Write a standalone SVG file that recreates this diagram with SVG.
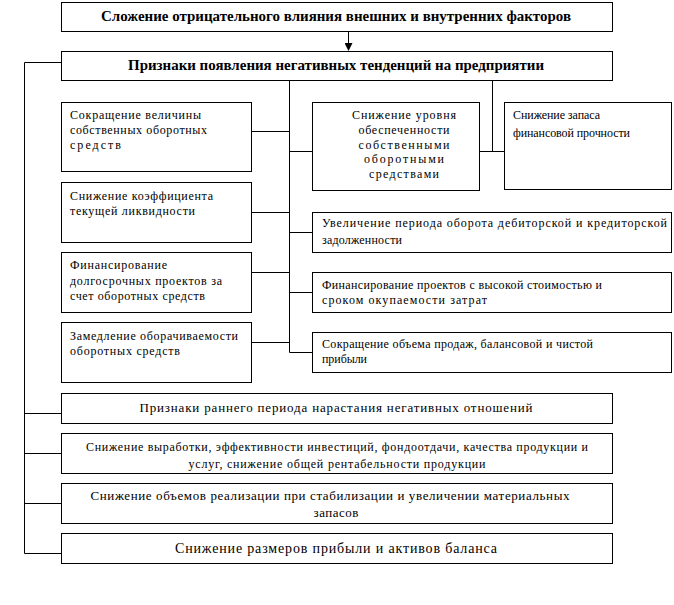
<svg xmlns="http://www.w3.org/2000/svg" width="674" height="605" viewBox="0 0 674 605">
<style>
rect{fill:#fff;stroke:#000;stroke-width:1}
.c line,.c polyline{stroke:#000;stroke-width:1;fill:none}
text{font-family:"Times New Roman","Liberation Serif",Tinos,"DejaVu Serif",serif;font-size:12px;fill:#000}
.b{font-weight:bold;font-size:14px;text-anchor:middle}
.m{text-anchor:middle}
.l13{font-size:13px;text-anchor:middle}
</style>
<defs>
<marker id="ah" markerWidth="8" markerHeight="8" refX="7" refY="4" orient="auto" markerUnits="userSpaceOnUse">
<path d="M0,0 L8,4 L0,8 Z" fill="#000"/>
</marker>
</defs>
<rect width="674" height="605" style="fill:#fff;stroke:none"/>
<g class="c" id="connectors">
<line x1="348.5" y1="31" x2="348.5" y2="50" marker-end="url(#ah)"/>
<polyline points="61,62.5 24.5,62.5 24.5,553.5 61,553.5"/>
<line x1="24.5" y1="413.5" x2="61" y2="413.5"/>
<line x1="24.5" y1="453.5" x2="61" y2="453.5"/>
<line x1="24.5" y1="503.5" x2="61" y2="503.5"/>
<line x1="289.5" y1="81" x2="289.5" y2="352.5"/>
<line x1="252" y1="131.5" x2="289.5" y2="131.5"/>
<line x1="252" y1="212.5" x2="289.5" y2="212.5"/>
<line x1="252" y1="272.5" x2="289.5" y2="272.5"/>
<line x1="252" y1="342.5" x2="289.5" y2="342.5"/>
<line x1="289.5" y1="151.5" x2="312" y2="151.5"/>
<line x1="289.5" y1="232.5" x2="312" y2="232.5"/>
<line x1="289.5" y1="292.5" x2="312" y2="292.5"/>
<line x1="289.5" y1="352.5" x2="312" y2="352.5"/>
<line x1="492.5" y1="81" x2="492.5" y2="151.5"/>
<line x1="480" y1="151.5" x2="504" y2="151.5"/>
</g>
<g id="top">
<rect x="61.5" y="2.5" width="551" height="29"/>
<text class="b" x="336" y="21" textLength="470" lengthAdjust="spacingAndGlyphs">Сложение отрицательного влияния внешних и внутренних факторов</text>
</g>
<g id="signs">
<rect x="61.5" y="51.5" width="551" height="29"/>
<text class="b" x="336" y="70" textLength="416" lengthAdjust="spacingAndGlyphs">Признаки появления негативных тенденций на предприятии</text>
</g>
<g id="l1">
<rect x="61.5" y="102.5" width="190" height="69"/>
<text x="70" y="119" textLength="131">Сокращение величины</text>
<text x="70" y="134" textLength="137">собственных оборотных</text>
<text x="70" y="149" textLength="51">средств</text>
</g>
<g id="l2">
<rect x="61.5" y="182.5" width="190" height="60"/>
<text x="70" y="200" textLength="143">Снижение коэффициента</text>
<text x="70" y="215" textLength="125">текущей ликвидности</text>
</g>
<g id="l3">
<rect x="61.5" y="252.5" width="190" height="60"/>
<text x="70" y="269" textLength="97">Финансирование</text>
<text x="70" y="285" textLength="152">долгосрочных проектов за</text>
<text x="70" y="300" textLength="135">счет оборотных средств</text>
</g>
<g id="l4">
<rect x="61.5" y="322.5" width="190" height="60"/>
<text x="70" y="340" textLength="168">Замедление оборачиваемости</text>
<text x="70" y="355" textLength="110">оборотных средств</text>
</g>
<g id="ra">
<rect x="312.5" y="102.5" width="167" height="88"/>
<text class="m" x="404" y="119" textLength="104">Снижение уровня</text>
<text class="m" x="404" y="134" textLength="91">обеспеченности</text>
<text class="m" x="404" y="149" textLength="91">собственными</text>
<text class="m" x="404" y="163" textLength="80">оборотными</text>
<text class="m" x="404" y="178" textLength="70">средствами</text>
</g>
<g id="rb">
<rect x="504.5" y="102.5" width="167" height="87"/>
<text x="513" y="119" textLength="87">Снижение запаса</text>
<text x="513" y="137" textLength="117">финансовой прочности</text>
</g>
<g id="rc">
<rect x="312.5" y="212.5" width="359" height="40"/>
<text x="322" y="227" textLength="345">Увеличение периода оборота дебиторской и кредиторской</text>
<text x="322" y="244" textLength="80">задолженности</text>
</g>
<g id="rd">
<rect x="312.5" y="272.5" width="359" height="40"/>
<text x="322" y="289" textLength="280">Финансирование проектов с высокой стоимостью и</text>
<text x="322" y="304" textLength="165">сроком окупаемости затрат</text>
</g>
<g id="re">
<rect x="312.5" y="332.5" width="359" height="40"/>
<text x="322" y="348" textLength="271">Сокращение объема продаж, балансовой и чистой</text>
<text x="322" y="363" textLength="45">прибыли</text>
</g>
<g id="b1">
<rect x="61.5" y="393.5" width="551" height="30"/>
<text class="l13" x="336" y="412" textLength="393">Признаки раннего периода нарастания негативных отношений</text>
</g>
<g id="b2">
<rect x="61.5" y="433.5" width="551" height="40"/>
<text class="m" x="337" y="451" textLength="502">Снижение выработки, эффективности инвестиций, фондоотдачи, качества продукции и</text>
<text class="m" x="337" y="468" textLength="297">услуг, снижение общей рентабельности продукции</text>
</g>
<g id="b3">
<rect x="61.5" y="483.5" width="551" height="40"/>
<text class="l13" x="330" y="500" textLength="479">Снижение объемов реализации при стабилизации и увеличении материальных</text>
<text class="l13" x="336" y="517" textLength="45">запасов</text>
</g>
<g id="b4">
<rect x="61.5" y="533.5" width="551" height="30"/>
<text class="l13" x="336" y="553" style="font-size:14px" textLength="322">Снижение размеров прибыли и активов баланса</text>
</g>
</svg>
